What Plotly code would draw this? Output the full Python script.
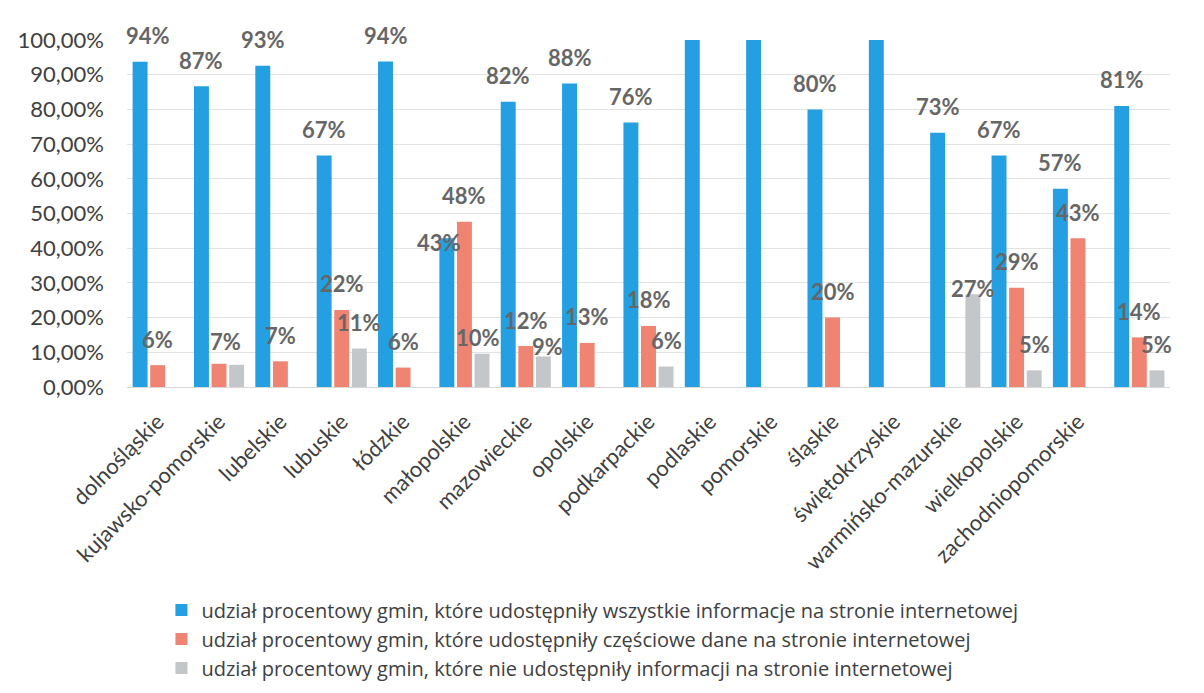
import plotly.graph_objects as go

# województwa (the 17th group has no label in the source chart)
regions = ["dolnośląskie", "kujawsko-pomorskie", "lubelskie", "lubuskie", "łódzkie",
           "małopolskie", "mazowieckie", "opolskie", "podkarpackie", "podlaskie",
           "pomorskie", "śląskie", "świętokrzyskie", "warmińsko-mazurskie",
           "wielkopolskie", "zachodniopomorskie", ""]

all_info = [0.937, 0.867, 0.926, 0.667, 0.938, 0.429, 0.822, 0.875, 0.762,
            1.0, 1.0, 0.800, 1.0, 0.733, 0.667, 0.571, 0.810]
partial = [0.063, 0.067, 0.074, 0.222, 0.056, 0.476, 0.118, 0.127, 0.176,
           0, 0, 0.200, 0, 0, 0.286, 0.429, 0.143]
no_info = [0, 0.064, 0, 0.111, 0, 0.096, 0.088, 0, 0.059,
           0, 0, 0, 0, 0.267, 0.048, 0, 0.048]

names = ["udział procentowy gmin, które udostępniły wszystkie informacje na stronie internetowej",
         "udział procentowy gmin, które udostępniły częściowe dane na stronie internetowej",
         "udział procentowy gmin, które nie udostępniły informacji na stronie internetowej"]
colors = ["#239fe2", "#ef8472", "#c4c7ca"]
series = [all_info, partial, no_info]

BARGAP = 0.14
LABEL_FONT = dict(family="Lato", size=22, color="#666666", weight="bold")

# (series, group) -> (xshift, yshift) for labels that sit oddly in the original
nudge = {(0, 5): (-8, -4), (2, 5): (-4, 16), (2, 6): (4, 10),
         (2, 13): (0, 6), (1, 1): (6, 22), (0, 0): (8, 26)}
hidden = {(2, 1)}

fig = go.Figure()
xs = list(range(len(regions)))
for s, (vals, name, col) in enumerate(zip(series, names, colors)):
    fig.add_trace(go.Bar(x=xs, y=vals, name=name, marker_color=col,
                         marker_line_width=0, hoverinfo="skip"))

annotations = []
step = (1 - BARGAP) / 3
for s, vals in enumerate(series):
    for g, v in enumerate(vals):
        if v <= 0 or v >= 1 or (s, g) in hidden:
            continue
        dx, dy = nudge.get((s, g), (0, 26))
        annotations.append(dict(
            x=g + (s - 1) * step, y=v, xref="x", yref="y",
            text=f"{round(v * 100)}%", showarrow=False,
            xanchor="center", yanchor="middle", xshift=dx, yshift=dy,
            font=LABEL_FONT))

# page body keeps its default 8px margin, so the figure is 16px smaller than the window
fig.update_layout(
    barmode="group", bargap=BARGAP, bargroupgap=0.15,
    width=1188, height=677,
    margin=dict(l=119, r=26, t=32, b=298, autoexpand=False),
    paper_bgcolor="white", plot_bgcolor="white",
    separators=", ",
    font=dict(family="Lato", size=20, color="#404040"),
    annotations=annotations,
    showlegend=True,
    legend=dict(orientation="v", x=0.033, y=-0.866, xanchor="left", yanchor="bottom",
                font=dict(family="Open Sans", size=20, color="#404040"),
                tracegroupgap=0, itemwidth=30),
)
fig.update_yaxes(range=[0, 1.0], dtick=0.1, tickformat=".2%",
                 gridcolor="#e3e3e3", gridwidth=1, zeroline=False,
                 ticklabelstandoff=22, tickfont=dict(size=22, color="#404040"))
fig.update_xaxes(range=[-0.5, len(regions) - 0.5], tickvals=xs, ticktext=regions,
                 tickangle=-45, showline=True, linecolor="#d9d9d9", automargin=False,
                 ticklabelstandoff=12, tickfont=dict(size=22, color="#404040"))

fig.write_html("out.html")
